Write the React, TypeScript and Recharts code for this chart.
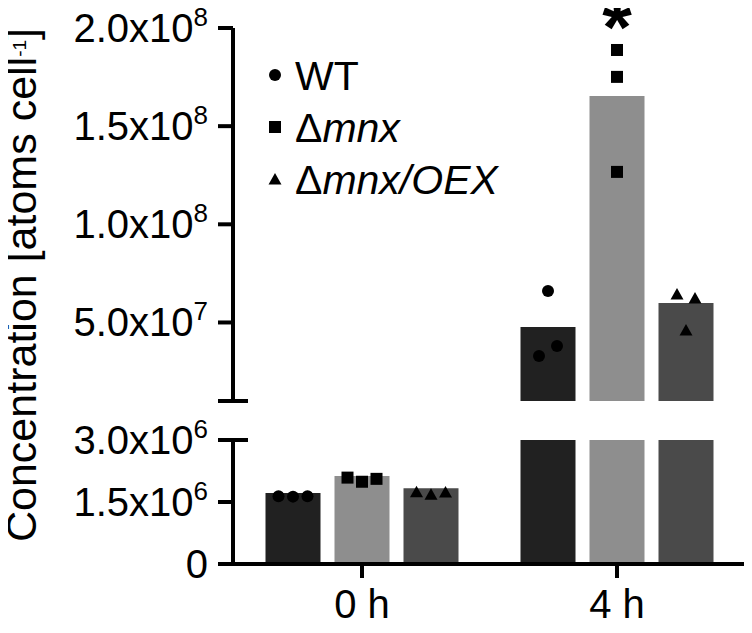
import { ComposedChart, Bar, Scatter, XAxis, YAxis, Legend, ReferenceDot } from 'recharts';

// time points
const times = ['0 h', '4 h'];

// bar heights (means), atoms per cell
const wtMean = [1.72e6, 4.77e7];
const mnxMean = [2.13e6, 1.654e8];
const oexMean = [1.83e6, 5.99e7];

// replicate values per time point
const wtReps = [[1.64e6, 1.63e6, 1.64e6], [6.6e7, 3.29e7, 3.8e7]];
const mnxReps = [[2.09e6, 1.99e6, 2.06e6], [1.888e8, 1.751e8, 1.267e8]];
const oexReps = [[1.75e6, 1.69e6, 1.74e6], [6.45e7, 6.25e7, 4.62e7]];

// significance marks for Δmnx
const mnxSignificance = ['', '*'];

// broken axis ticks: lower and upper segment
const lowerTicks = [0, 1.5e6, 3e6];
const upperTicks = [1e7, 5e7, 1e8, 1.5e8, 2e8];

const FONT = '"Liberation Sans", Arial, Helvetica, sans-serif';
const W = 752;
const H = 633;
const AXIS_W = 233;
const UPPER_TOP = 28;
const UPPER_BOTTOM = 401;
const LOWER_TOP = 440;
const LOWER_BOTTOM = 564;
const PAD = { left: 1.5, right: 7.5 };
const CAT_GAP = 31;
const BAR_GAP = 14;

const LOWER = [lowerTicks[0], lowerTicks[lowerTicks.length - 1]];
const UPPER = [upperTicks[0], upperTicks[upperTicks.length - 1]];

const BAND = (W - AXIS_W - PAD.left - PAD.right) / times.length;
const BAR_W = (BAND - 2 * CAT_GAP - 2 * BAR_GAP) / 3;

const series = [
  { key: 'wt', mean: wtMean, reps: wtReps, fill: '#212121', marker: 'circle', prefix: 'WT', italic: '' },
  { key: 'mnx', mean: mnxMean, reps: mnxReps, fill: '#8e8e8e', marker: 'square', prefix: 'Δ', italic: 'mnx' },
  { key: 'oex', mean: oexMean, reps: oexReps, fill: '#4a4a4a', marker: 'triangle', prefix: 'Δ', italic: 'mnx/OEX' },
];

function Marker({ kind, cx, cy }: { kind: string; cx: number; cy: number }) {
  if (kind === 'circle') return <circle cx={cx} cy={cy} r={6} fill="#000" />;
  if (kind === 'square') return <rect x={cx - 6} y={cy - 6} width={12} height={12} fill="#000" />;
  return <polygon points={`${cx},${cy - 6} ${cx + 6.5},${cy + 5.5} ${cx - 6.5},${cy + 5.5}`} fill="#000" />;
}

// approximate pixel height, only used to decide which dots overlap (Prism-like spreading)
function approxPx(v: number) {
  if (v >= UPPER[0]) return UPPER_BOTTOM - ((v - UPPER[0]) / (UPPER[1] - UPPER[0])) * (UPPER_BOTTOM - UPPER_TOP);
  return LOWER_BOTTOM - ((v - LOWER[0]) / (LOWER[1] - LOWER[0])) * (LOWER_BOTTOM - LOWER_TOP);
}

function spreadOffsets(values: number[]) {
  const px = values.map(approxPx);
  const order = px.map((_, i) => i).sort((a, b) => px[a] - px[b]);
  const clusters: number[][] = [];
  let cur = [order[0]];
  for (let k = 1; k < order.length; k++) {
    if (px[order[k]] - px[order[k - 1]] < 12) cur.push(order[k]);
    else {
      clusters.push(cur);
      cur = [order[k]];
    }
  }
  clusters.push(cur);
  const out = values.map(() => 0);
  clusters.forEach((c) => {
    const idx = [...c].sort((a, b) => a - b);
    const step = c.length === 2 ? 18 : 14.5;
    idx.forEach((id, j) => {
      out[id] = (j - (c.length - 1) / 2) * step;
    });
  });
  return out;
}

const barCenter = (si: number) => CAT_GAP + BAR_W / 2 + si * (BAR_W + BAR_GAP);

const rows = times.map((t, i) => ({ time: t, wt: wtMean[i], mnx: mnxMean[i], oex: oexMean[i] }));
const upperRows = rows.map((r) => ({
  time: r.time,
  wt: r.wt >= UPPER[0] ? r.wt : null,
  mnx: r.mnx >= UPPER[0] ? r.mnx : null,
  oex: r.oex >= UPPER[0] ? r.oex : null,
}));

const points = series.map((s, si) =>
  s.reps.flatMap((vals, gi) => {
    const off = spreadOffsets(vals);
    return vals.map((v, k) => ({ x: gi + (barCenter(si) + off[k]) / BAND, y: v }));
  })
);

// significance stars sit above the highest Δmnx replicate
const starPoints = times
  .map((_, gi) => ({ x: gi + barCenter(1) / BAND, y: Math.max(...mnxReps[gi]), mark: mnxSignificance[gi] }))
  .filter((p) => p.mark);

function fmtTick(v: number) {
  if (v === 0) return { mant: '0', exp: '' };
  const exp = Math.floor(Math.log10(v));
  return { mant: (v / Math.pow(10, exp)).toFixed(1) + 'x10', exp: String(exp) };
}

function YTick(props: any, capValue: number, capLabel: boolean) {
  const { x, y, payload } = props;
  const v = payload.value;
  const axisX = x + 25;
  const isCap = v === capValue;
  const { mant, exp } = fmtTick(v);
  return (
    <g>
      {isCap && <line x1={axisX} x2={axisX + 15} y1={y} y2={y} stroke="#000" strokeWidth={4} />}
      {(!isCap || capLabel) && (
        <text x={x} y={y} dy={14} textAnchor="end" fontSize={40} fill="#000" fontFamily={FONT}>
          {mant}
          {exp && (
            <tspan dy={-16} fontSize={26}>
              {exp}
            </tspan>
          )}
        </text>
      )}
    </g>
  );
}

function XTick(props: any) {
  const { x, y, payload } = props;
  return (
    <text x={x} y={y} dy={28} textAnchor="middle" fontSize={40} fill="#000" fontFamily={FONT}>
      {payload.value}
    </text>
  );
}

function LegendBox() {
  return (
    <svg width={320} height={160}>
      {series.map((s, i) => (
        <g key={s.key}>
          <Marker kind={s.marker} cx={13} cy={30 + i * 52} />
          <text x={33} y={30 + i * 52 + 15} fontSize={41} fill="#000" fontFamily={FONT}>
            {s.prefix}
            {s.italic && <tspan fontStyle="italic">{s.italic}</tspan>}
          </text>
        </g>
      ))}
    </svg>
  );
}

function YLabel() {
  const bx = 36;
  const cy = 285;
  return (
    <text x={bx} y={cy} transform={`rotate(-90, ${bx}, ${cy})`} textAnchor="middle" fontSize={43} fill="#000" fontFamily={FONT}>
      Concentration [atoms cell
      <tspan dy={-10} fontSize={19}>
        -1
      </tspan>
      <tspan dy={10}>]</tspan>
    </text>
  );
}

const axisStroke = { stroke: '#000', strokeWidth: 4 };

export default function App() {
  return (
    <div style={{ position: 'relative', left: -8, top: -8, width: W, height: H, fontFamily: FONT, background: '#fff' }}>
      <div style={{ position: 'absolute', left: 0, top: 0 }}>
        <ComposedChart
          width={W}
          height={H}
          data={upperRows}
          margin={{ top: UPPER_TOP, right: 0, bottom: H - UPPER_BOTTOM, left: 0 }}
          barCategoryGap={CAT_GAP}
          barGap={BAR_GAP}
        >
          <XAxis xAxisId="cat" dataKey="time" hide padding={PAD} />
          <XAxis xAxisId="num" type="number" dataKey="x" domain={[0, times.length]} hide padding={PAD} allowDataOverflow />
          <YAxis
            type="number"
            domain={UPPER}
            ticks={upperTicks}
            interval={0}
            allowDataOverflow
            width={AXIS_W}
            axisLine={axisStroke}
            tickLine={axisStroke}
            tickSize={15}
            tickMargin={10}
            tick={(p: any) => YTick(p, UPPER[0], false)}
            label={{ content: () => <YLabel /> }}
          />
          {series.map((s) => (
            <Bar key={s.key} xAxisId="cat" dataKey={s.key} fill={s.fill} isAnimationActive={false} />
          ))}
          {series.map((s, si) => (
            <Scatter
              key={s.key + '-pts'}
              xAxisId="num"
              dataKey="y"
              data={points[si].filter((p) => p.y >= UPPER[0])}
              shape={(p: any) => <Marker kind={s.marker} cx={p.cx} cy={p.cy} />}
              isAnimationActive={false}
            />
          ))}
          {starPoints.map((p, i) => (
            <ReferenceDot
              key={i}
              xAxisId="num"
              x={p.x}
              y={p.y}
              ifOverflow="visible"
              shape={(d: any) => (
                <text x={d.cx} y={d.cy + 3} textAnchor="middle" fontSize={76} fontWeight="bold" fill="#000" fontFamily={FONT}>
                  {p.mark}
                </text>
              )}
            />
          ))}
          <Legend
            layout="vertical"
            align="center"
            verticalAlign="middle"
            content={() => <LegendBox />}
            wrapperStyle={{ left: 262, top: 45, width: 320, height: 160 }}
          />
        </ComposedChart>
      </div>
      <div style={{ position: 'absolute', left: 0, top: 0 }}>
        <ComposedChart
          width={W}
          height={H}
          data={rows}
          margin={{ top: LOWER_TOP, right: 0, bottom: H - LOWER_BOTTOM - 60, left: 0 }}
          barCategoryGap={CAT_GAP}
          barGap={BAR_GAP}
        >
          <XAxis
            xAxisId="cat"
            dataKey="time"
            height={60}
            padding={PAD}
            axisLine={axisStroke}
            tickLine={axisStroke}
            tickSize={14}
            tickMargin={12}
            tick={XTick}
          />
          <XAxis xAxisId="num" type="number" dataKey="x" domain={[0, times.length]} hide padding={PAD} allowDataOverflow />
          <YAxis
            type="number"
            domain={LOWER}
            ticks={lowerTicks}
            interval={0}
            allowDataOverflow
            width={AXIS_W}
            axisLine={axisStroke}
            tickLine={axisStroke}
            tickSize={15}
            tickMargin={10}
            tick={(p: any) => YTick(p, LOWER[1], true)}
          />
          {series.map((s) => (
            <Bar key={s.key} xAxisId="cat" dataKey={s.key} fill={s.fill} isAnimationActive={false} />
          ))}
          {series.map((s, si) => (
            <Scatter
              key={s.key + '-pts'}
              xAxisId="num"
              dataKey="y"
              data={points[si].filter((p) => p.y <= LOWER[1])}
              shape={(p: any) => <Marker kind={s.marker} cx={p.cx} cy={p.cy} />}
              isAnimationActive={false}
            />
          ))}
        </ComposedChart>
      </div>
    </div>
  );
}
